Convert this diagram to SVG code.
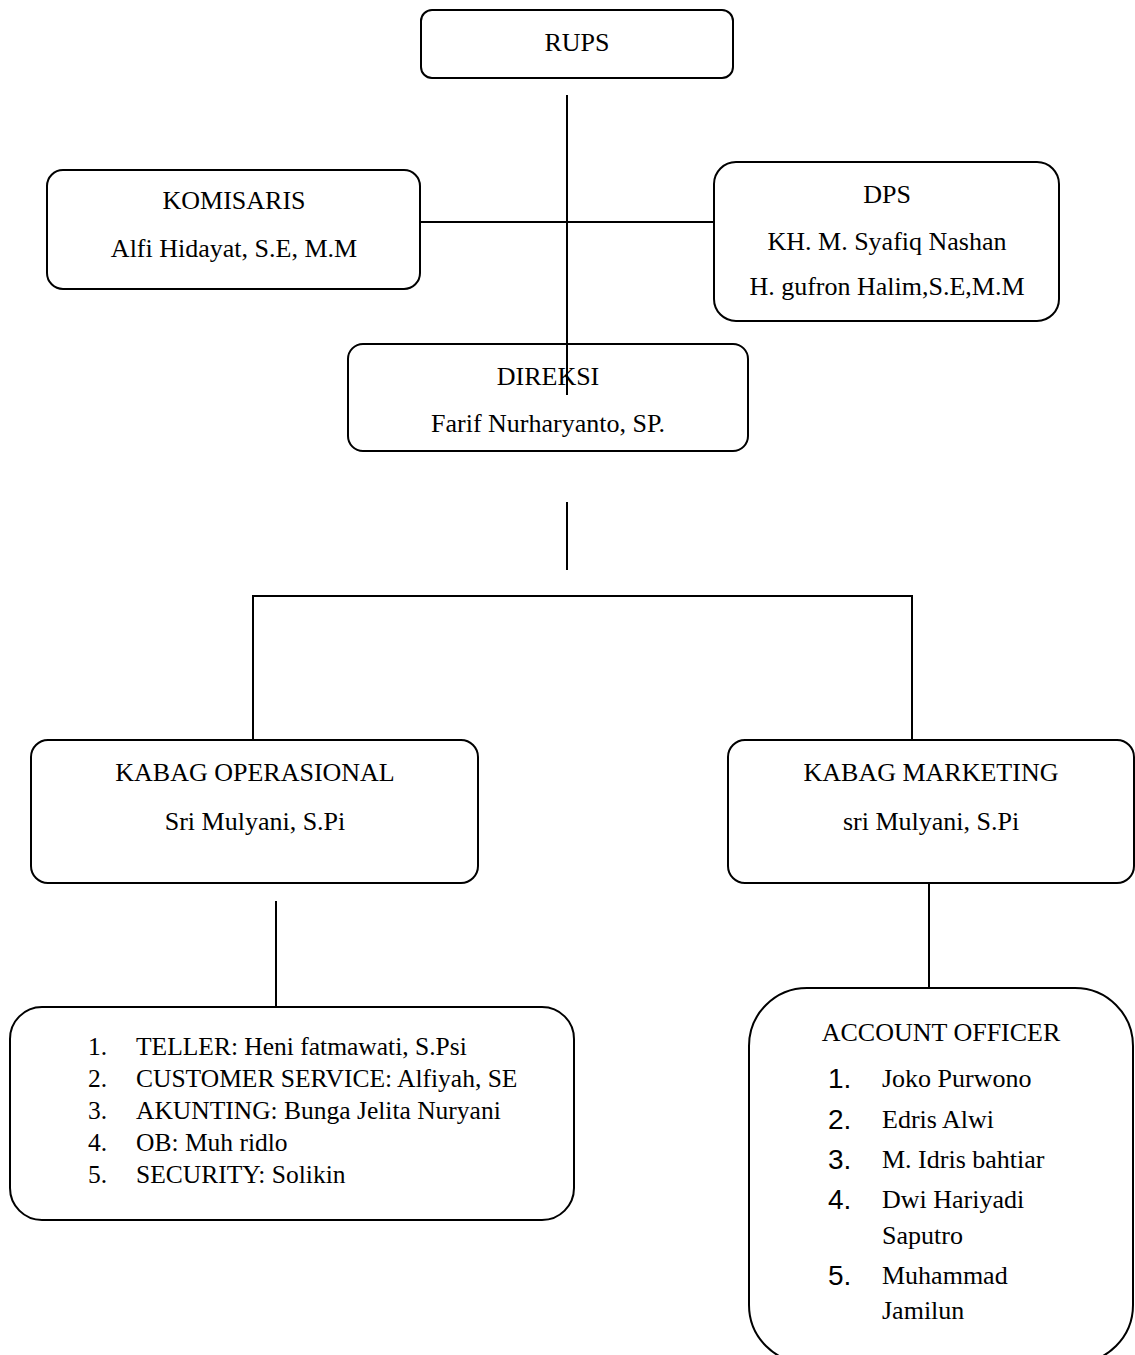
<svg xmlns="http://www.w3.org/2000/svg" width="1135" height="1355" viewBox="0 0 1135 1355">
<style>
.box{fill:#fff;stroke:#000;stroke-width:2}
.ln{stroke:#000;stroke-width:2;fill:none}
text{font-family:"Liberation Serif","Times New Roman",serif;font-size:26px;fill:#000}
.c{text-anchor:middle}
.li{font-size:25.5px}
.num{font-family:"Liberation Sans",Arial,sans-serif;font-size:28px}
</style>
<rect width="1135" height="1355" fill="#fff"/>
<g id="connectors">
<line class="ln" x1="567" y1="95" x2="567" y2="395"/>
<line class="ln" x1="420" y1="222" x2="714" y2="222"/>
<line class="ln" x1="567" y1="502" x2="567" y2="570"/>
<polyline class="ln" points="253,740 253,596 912,596 912,740"/>
<line class="ln" x1="276" y1="901" x2="276" y2="1007"/>
<line class="ln" x1="929" y1="883" x2="929" y2="988"/>
</g>
<g id="rups">
<rect class="box" x="421" y="10" width="312" height="68" rx="11"/>
<text class="c" x="577" y="51">RUPS</text>
</g>
<g id="komisaris">
<rect class="box" x="47" y="170" width="373" height="119" rx="16"/>
<text class="c" x="234" y="209">KOMISARIS</text>
<text class="c" x="234" y="257">Alfi Hidayat, S.E, M.M</text>
</g>
<g id="dps">
<rect class="box" x="714" y="162" width="345" height="159" rx="22"/>
<text class="c" x="887" y="203">DPS</text>
<text class="c" x="887" y="250">KH. M. Syafiq Nashan</text>
<text class="c" x="887" y="295">H. gufron Halim,S.E,M.M</text>
</g>
<g id="direksi">
<rect class="box" x="348" y="344" width="400" height="107" rx="15" fill-opacity="0"/>
<text class="c" x="548" y="385">DIREKSI</text>
<text class="c" x="548" y="432">Farif Nurharyanto, SP.</text>
</g>
<g id="kabag-operasional">
<rect class="box" x="31" y="740" width="447" height="143" rx="17"/>
<text class="c" x="255" y="781">KABAG OPERASIONAL</text>
<text class="c" x="255" y="830">Sri Mulyani, S.Pi</text>
</g>
<g id="kabag-marketing">
<rect class="box" x="728" y="740" width="406" height="143" rx="17"/>
<text class="c" x="931" y="781">KABAG MARKETING</text>
<text class="c" x="931" y="830">sri Mulyani, S.Pi</text>
</g>
<g id="staff-operasional">
<rect class="box" x="10" y="1007" width="564" height="213" rx="32"/>
<text class="li" x="88" y="1055">1.</text><text class="li" x="136" y="1055">TELLER: Heni fatmawati, S.Psi</text>
<text class="li" x="88" y="1087">2.</text><text class="li" x="136" y="1087">CUSTOMER SERVICE: Alfiyah, SE</text>
<text class="li" x="88" y="1119">3.</text><text class="li" x="136" y="1119">AKUNTING: Bunga Jelita Nuryani</text>
<text class="li" x="88" y="1151">4.</text><text class="li" x="136" y="1151">OB: Muh ridlo</text>
<text class="li" x="88" y="1183">5.</text><text class="li" x="136" y="1183">SECURITY: Solikin</text>
</g>
<g id="account-officer">
<rect class="box" x="749" y="988" width="384" height="375" rx="58"/>
<text class="c" x="941" y="1041">ACCOUNT OFFICER</text>
<text class="num" x="828" y="1088">1.</text><text x="882" y="1087">Joko Purwono</text>
<text class="num" x="828" y="1129">2.</text><text x="882" y="1128">Edris Alwi</text>
<text class="num" x="828" y="1169">3.</text><text x="882" y="1168">M. Idris bahtiar</text>
<text class="num" x="828" y="1209">4.</text><text x="882" y="1208">Dwi Hariyadi</text>
<text x="882" y="1244">Saputro</text>
<text class="num" x="828" y="1285">5.</text><text x="882" y="1284">Muhammad</text>
<text x="882" y="1319">Jamilun</text>
</g>
</svg>
